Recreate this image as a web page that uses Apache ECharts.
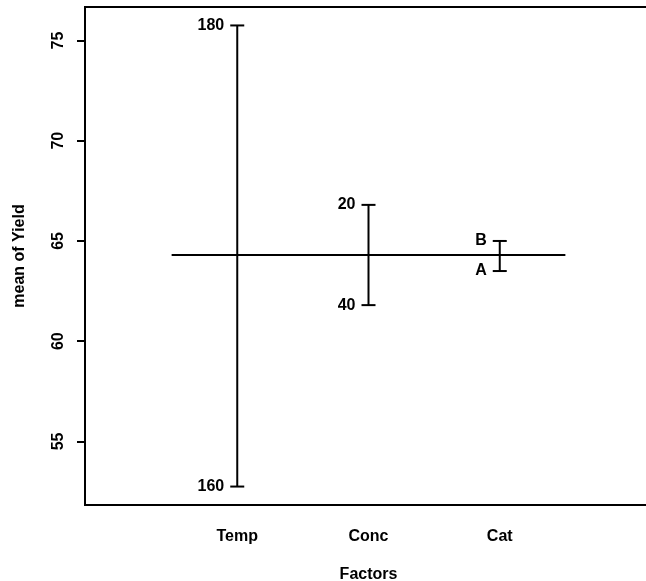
<!DOCTYPE html>
<html>
<head>
<meta charset="utf-8">
<script src="https://cdn.jsdelivr.net/npm/echarts@6/dist/echarts.min.js"></script>
<style>html,body{margin:0;padding:0;background:#fff}#c{width:646px;height:581px}</style>
</head>
<body>
<div id="c"></div>
<script>
const factors = ['Temp', 'Conc', 'Cat'];
const levelNames = [['160', '180'], ['20', '40'], ['A', 'B']];
const levelMeans = [[52.75, 75.75], [66.8, 61.8], [63.5, 65.0]];
const grandMean = 64.3;
const yTicks = [55, 60, 65, 70, 75];
const xTicks = [1, 2, 3];

const FONT = 'Liberation Sans, Arial, sans-serif';
const FS = 16;
const chart = echarts.init(document.getElementById('c'), null, {renderer: 'canvas'});

const barData = factors.map((f, i) => [i + 1, levelMeans[i][0], levelMeans[i][1]]);

chart.setOption({
  animation: false,
  backgroundColor: '#fff',
  grid: {left: 85, top: 7, width: 567, height: 498, show: true, borderColor: '#000', borderWidth: 2,
         containLabel: false, outerBoundsMode: 'none'},
  xAxis: {
    type: 'value', min: -0.16, max: 4.16,
    axisLine: {show: false, onZero: false}, axisTick: {show: false}, splitLine: {show: false},
    axisLabel: {
      customValues: xTicks, margin: 24,
      formatter: v => factors[Math.round(v) - 1] || '',
      color: '#000', fontFamily: FONT, fontWeight: 'bold', fontSize: FS
    },
    name: 'Factors', nameLocation: 'middle', nameGap: 62,
    nameTextStyle: {color: '#000', fontFamily: FONT, fontWeight: 'bold', fontSize: FS}
  },
  yAxis: {
    type: 'value', min: 51.83, max: 76.67,
    axisLine: {show: false, onZero: false}, splitLine: {show: false},
    axisTick: {show: true, customValues: yTicks, length: 8, inside: false, lineStyle: {color: '#000', width: 2}},
    axisLabel: {
      customValues: yTicks, rotate: 90, margin: 18,
      color: '#000', fontFamily: FONT, fontWeight: 'bold', fontSize: FS
    },
    name: 'mean of Yield', nameLocation: 'middle', nameGap: 57, nameRotate: 90,
    nameTextStyle: {color: '#000', fontFamily: FONT, fontWeight: 'bold', fontSize: FS}
  },
  series: [
    {
      type: 'line',
      data: [[0.5, grandMean], [3.5, grandMean]],
      showSymbol: false, symbol: 'none',
      lineStyle: {color: '#000', width: 2},
      silent: true
    },
    {
      type: 'custom',
      data: barData,
      renderItem: function (params, api) {
        const i = params.dataIndex;
        const x = api.value(0);
        const v1 = api.value(1), v2 = api.value(2);
        const p1 = api.coord([x, v1]);
        const p2 = api.coord([x, v2]);
        const hw = 7;
        const style = {stroke: '#000', lineWidth: 2};
        const children = [
          {type: 'line', shape: {x1: p1[0], y1: p1[1], x2: p2[0], y2: p2[1]}, style: style},
          {type: 'line', shape: {x1: p1[0] - hw, y1: p1[1], x2: p1[0] + hw, y2: p1[1]}, style: style},
          {type: 'line', shape: {x1: p2[0] - hw, y1: p2[1], x2: p2[0] + hw, y2: p2[1]}, style: style}
        ];
        [p1, p2].forEach((p, k) => {
          children.push({
            type: 'text',
            x: p[0] - 13, y: p[1],
            style: {
              text: levelNames[i][k], fill: '#000',
              font: 'bold ' + FS + 'px ' + FONT,
              align: 'right', verticalAlign: 'middle'
            }
          });
        });
        return {type: 'group', children: children};
      }
    }
  ]
});
</script>
</body>
</html>
